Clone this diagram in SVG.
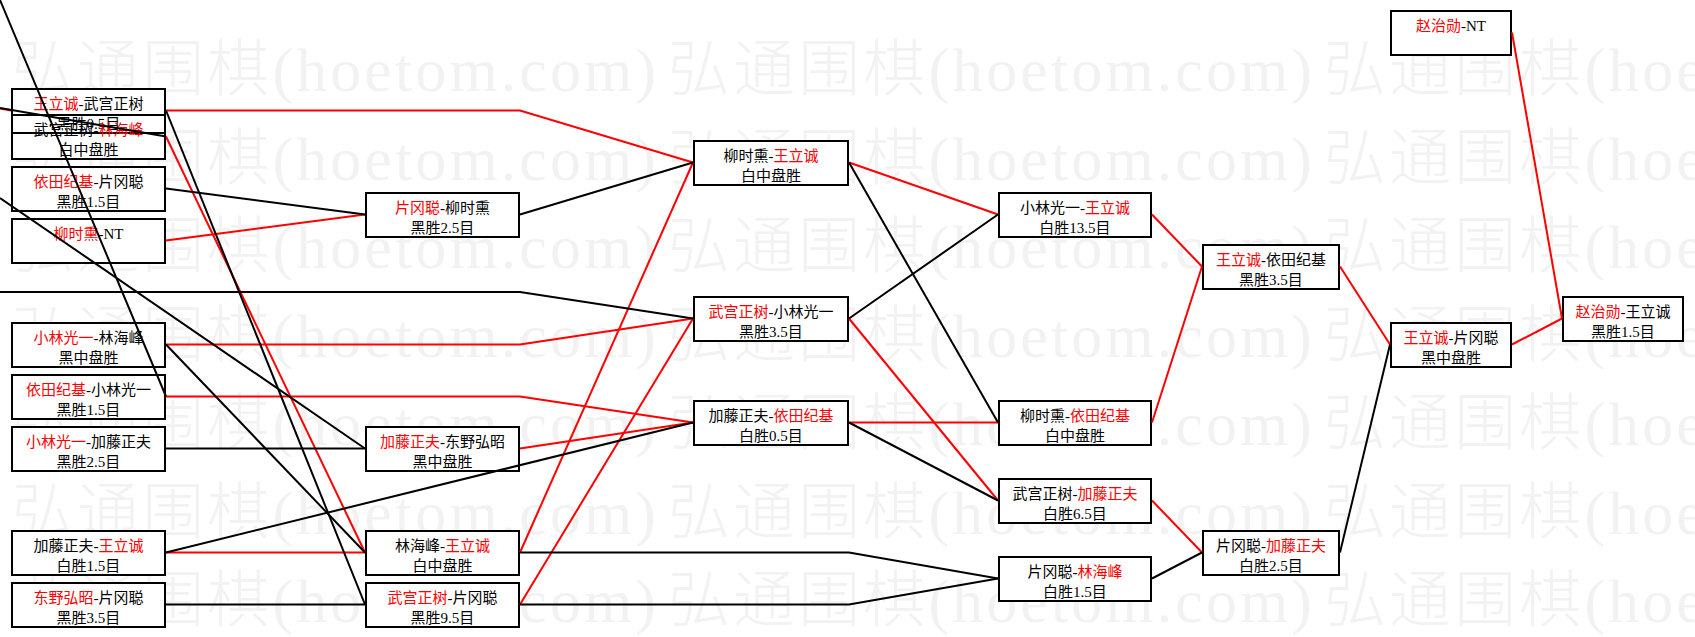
<svg xmlns="http://www.w3.org/2000/svg" width="1695" height="637" viewBox="0 0 1695 637">
<style>
.wm{font-family:"Liberation Serif","Noto Sans CJK SC",serif;font-size:62px;font-weight:300;fill:#f2f2f2}
.box{fill:#fff;stroke:#000;stroke-width:2}
.bor{fill:none;stroke:#000;stroke-width:2}
.t{font-family:"Liberation Serif","Noto Sans CJK SC",serif;font-size:15px;text-anchor:middle;fill:#000}
.r{fill:#f00}
.lr{fill:none;stroke:#f00;stroke-width:2}
.lb{fill:none;stroke:#000;stroke-width:2}
</style>
<defs>
<g id="wmrow">
<text class="wm" x="12" y="0" textLength="644" lengthAdjust="spacing">弘通围棋(hoetom.com)</text>
<text class="wm" x="668" y="0" textLength="644" lengthAdjust="spacing">弘通围棋(hoetom.com)</text>
<text class="wm" x="1324" y="0" textLength="644" lengthAdjust="spacing">弘通围棋(hoetom.com)</text>
</g>
</defs>
<rect x="0" y="0" width="1695" height="637" fill="#fff"/>
<g id="watermark">
<use href="#wmrow" y="91"/>
<use href="#wmrow" y="179.5"/>
<use href="#wmrow" y="268"/>
<use href="#wmrow" y="356.5"/>
<use href="#wmrow" y="445"/>
<use href="#wmrow" y="533.5"/>
<use href="#wmrow" y="622"/>
</g>
<g id="nodes">
<g id="nA"><rect class="box" x="12" y="89" width="153" height="44"/><text class="t" x="88.5" y="109"><tspan class="r">王立诚</tspan>-武宫正树</text><text class="t" x="88.5" y="129">黑胜0.5目</text></g>
<g id="nB"><rect x="12" y="134" width="153" height="24" fill="#fff"/><rect class="bor" x="12" y="115" width="153" height="44"/><text class="t" x="88.5" y="135">武宫正树-<tspan class="r">林海峰</tspan></text><text class="t" x="88.5" y="155">白中盘胜</text></g>
<g id="nC"><rect class="box" x="12" y="167" width="153" height="44"/><text class="t" x="88.5" y="187"><tspan class="r">依田纪基</tspan>-片冈聪</text><text class="t" x="88.5" y="207">黑胜1.5目</text></g>
<g id="nD"><rect class="box" x="12" y="219" width="153" height="44"/><text class="t" x="88.5" y="239"><tspan class="r">柳时熏</tspan>-NT</text></g>
<g id="nE"><rect class="box" x="12" y="323" width="153" height="44"/><text class="t" x="88.5" y="343"><tspan class="r">小林光一</tspan>-林海峰</text><text class="t" x="88.5" y="363">黑中盘胜</text></g>
<g id="nF"><rect class="box" x="12" y="375" width="153" height="44"/><text class="t" x="88.5" y="395"><tspan class="r">依田纪基</tspan>-小林光一</text><text class="t" x="88.5" y="415">黑胜1.5目</text></g>
<g id="nG"><rect class="box" x="12" y="427" width="153" height="44"/><text class="t" x="88.5" y="447"><tspan class="r">小林光一</tspan>-加藤正夫</text><text class="t" x="88.5" y="467">黑胜2.5目</text></g>
<g id="nH"><rect class="box" x="12" y="531" width="153" height="44"/><text class="t" x="88.5" y="551">加藤正夫-<tspan class="r">王立诚</tspan></text><text class="t" x="88.5" y="571">白胜1.5目</text></g>
<g id="nI"><rect class="box" x="12" y="583" width="153" height="44"/><text class="t" x="88.5" y="603"><tspan class="r">东野弘昭</tspan>-片冈聪</text><text class="t" x="88.5" y="623">黑胜3.5目</text></g>
<g id="nJ"><rect class="box" x="366" y="193" width="153" height="44"/><text class="t" x="442.5" y="213"><tspan class="r">片冈聪</tspan>-柳时熏</text><text class="t" x="442.5" y="233">黑胜2.5目</text></g>
<g id="nK"><rect class="box" x="366" y="427" width="153" height="44"/><text class="t" x="442.5" y="447"><tspan class="r">加藤正夫</tspan>-东野弘昭</text><text class="t" x="442.5" y="467">黑中盘胜</text></g>
<g id="nL"><rect class="box" x="366" y="531" width="153" height="44"/><text class="t" x="442.5" y="551">林海峰-<tspan class="r">王立诚</tspan></text><text class="t" x="442.5" y="571">白中盘胜</text></g>
<g id="nM"><rect class="box" x="366" y="583" width="153" height="44"/><text class="t" x="442.5" y="603"><tspan class="r">武宫正树</tspan>-片冈聪</text><text class="t" x="442.5" y="623">黑胜9.5目</text></g>
<g id="nN"><rect class="box" x="694" y="141" width="154" height="44"/><text class="t" x="771" y="161">柳时熏-<tspan class="r">王立诚</tspan></text><text class="t" x="771" y="181">白中盘胜</text></g>
<g id="nO"><rect class="box" x="694" y="297" width="154" height="44"/><text class="t" x="771" y="317"><tspan class="r">武宫正树</tspan>-小林光一</text><text class="t" x="771" y="337">黑胜3.5目</text></g>
<g id="nP"><rect class="box" x="694" y="401" width="154" height="44"/><text class="t" x="771" y="421">加藤正夫-<tspan class="r">依田纪基</tspan></text><text class="t" x="771" y="441">白胜0.5目</text></g>
<g id="nQ"><rect class="box" x="999" y="193" width="152" height="44"/><text class="t" x="1075" y="213">小林光一-<tspan class="r">王立诚</tspan></text><text class="t" x="1075" y="233">白胜13.5目</text></g>
<g id="nR"><rect class="box" x="999" y="401" width="152" height="44"/><text class="t" x="1075" y="421">柳时熏-<tspan class="r">依田纪基</tspan></text><text class="t" x="1075" y="441">白中盘胜</text></g>
<g id="nS"><rect class="box" x="999" y="479" width="152" height="44"/><text class="t" x="1075" y="499">武宫正树-<tspan class="r">加藤正夫</tspan></text><text class="t" x="1075" y="519">白胜6.5目</text></g>
<g id="nT"><rect class="box" x="999" y="557" width="152" height="44"/><text class="t" x="1075" y="577">片冈聪-<tspan class="r">林海峰</tspan></text><text class="t" x="1075" y="597">白胜1.5目</text></g>
<g id="nU"><rect class="box" x="1203" y="245" width="136" height="44"/><text class="t" x="1271" y="265"><tspan class="r">王立诚</tspan>-依田纪基</text><text class="t" x="1271" y="285">黑胜3.5目</text></g>
<g id="nV"><rect class="box" x="1203" y="531" width="136" height="44"/><text class="t" x="1271" y="551">片冈聪-<tspan class="r">加藤正夫</tspan></text><text class="t" x="1271" y="571">白胜2.5目</text></g>
<g id="nW"><rect class="box" x="1391" y="323" width="120" height="44"/><text class="t" x="1451" y="343"><tspan class="r">王立诚</tspan>-片冈聪</text><text class="t" x="1451" y="363">黑中盘胜</text></g>
<g id="nX"><rect class="box" x="1391" y="11" width="120" height="44"/><text class="t" x="1451" y="31"><tspan class="r">赵治勋</tspan>-NT</text></g>
<g id="nY"><rect class="box" x="1563" y="297" width="120" height="44"/><text class="t" x="1623" y="317"><tspan class="r">赵治勋</tspan>-王立诚</text><text class="t" x="1623" y="337">黑胜1.5目</text></g>
</g>
<g id="connectors">
<path class="lr" d="M0,108.5 L11,110.5"/>
<path class="lr" d="M166,110.5 H520 L693,162.5"/>
<path class="lr" d="M166,240.5 L365,214.5"/>
<path class="lr" d="M166,136.5 L365,552.5"/>
<path class="lr" d="M166,552.5 H365"/>
<path class="lr" d="M166,344.5 H520 L693,318.5"/>
<path class="lr" d="M166,396.5 H520 L693,422.5"/>
<path class="lr" d="M520,448.5 L693,422.5"/>
<path class="lr" d="M520,552.5 L693,162.5"/>
<path class="lr" d="M520,604.5 L693,318.5"/>
<path class="lr" d="M849,162.5 L998,214.5"/>
<path class="lr" d="M849,318.5 L998,500.5"/>
<path class="lr" d="M849,422.5 H998"/>
<path class="lr" d="M1152,214.5 L1202,266.5"/>
<path class="lr" d="M1152,422.5 L1202,266.5"/>
<path class="lr" d="M1152,500.5 L1202,552.5"/>
<path class="lr" d="M1340,266.5 L1390,344.5"/>
<path class="lr" d="M1512,344.5 L1562,318.5"/>
<path class="lr" d="M1512,32.5 L1562,318.5"/>
<path class="lb" d="M0,108 L166,136.5"/>
<path class="lb" d="M-4.2,-10 L166,396.5"/>
<path class="lb" d="M0,198 L365,448.5"/>
<path class="lb" d="M0,292 H520 L693,318.5"/>
<path class="lb" d="M166,188.5 L365,214.5"/>
<path class="lb" d="M166,448.5 H365"/>
<path class="lb" d="M166,344.5 L365,552.5"/>
<path class="lb" d="M166,110.5 L365,604.5"/>
<path class="lb" d="M166,604.5 H365"/>
<path class="lb" d="M166,552.5 L693,422.5"/>
<path class="lb" d="M520,214.5 L693,162.5"/>
<path class="lb" d="M520,552.5 H849 L998,578.5"/>
<path class="lb" d="M520,604.5 H849 L998,578.5"/>
<path class="lb" d="M849,162.5 L998,422.5"/>
<path class="lb" d="M849,318.5 L998,214.5"/>
<path class="lb" d="M849,422.5 L998,500.5"/>
<path class="lb" d="M1152,578.5 L1202,552.5"/>
<path class="lb" d="M1340,552.5 L1390,344.5"/>
</g>
</svg>
